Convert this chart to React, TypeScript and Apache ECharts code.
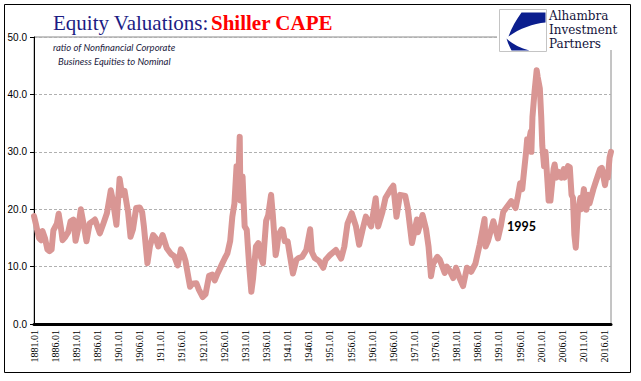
import React, { useEffect, useRef } from "react";
import * as echarts from "echarts";

// Monthly category axis: 1881.01 ... 2017.07
const START_YEAR = 1881;
const END_YEAR = 2017;
const END_MONTH = 7;

// CAPE readings (date label, value)
const dates = [
  "1881.01", "1881.06", "1882.03", "1882.09", "1883.01", "1883.08", "1884.03", "1884.09", "1885.03", "1885.08",
  "1886.06", "1886.11", "1887.06", "1887.10", "1888.06", "1889.02", "1889.09", "1890.05", "1890.11", "1891.06",
  "1892.02", "1892.08", "1893.06", "1894.03", "1894.10", "1895.06", "1896.08", "1897.06", "1898.04", "1899.03",
  "1899.09", "1900.07", "1901.04", "1901.11", "1902.06", "1903.04", "1903.11", "1904.06", "1905.03", "1906.01",
  "1906.08", "1907.01", "1907.11", "1908.06", "1909.03", "1909.10", "1910.06", "1911.06", "1912.06", "1913.06",
  "1914.03", "1915.01", "1915.10", "1916.06", "1916.11", "1917.12", "1918.06", "1919.06", "1920.01", "1920.12",
  "1921.08", "1922.06", "1923.03", "1923.10", "1924.06", "1925.08", "1926.03", "1926.10", "1927.06", "1927.12",
  "1928.06", "1928.12", "1929.05", "1929.09", "1929.11", "1930.05", "1930.11", "1931.05", "1931.12", "1932.06",
  "1932.11", "1933.07", "1934.02", "1934.07", "1935.03", "1935.12", "1936.06", "1937.02", "1937.07", "1938.03",
  "1938.06", "1938.11", "1939.08", "1939.11", "1940.05", "1941.01", "1941.06", "1942.04", "1943.02", "1943.08",
  "1944.06", "1945.06", "1946.05", "1946.10", "1947.06", "1948.06", "1949.06", "1950.01", "1951.01", "1952.06",
  "1953.09", "1954.06", "1955.03", "1956.03", "1957.03", "1957.12", "1958.12", "1959.07", "1960.10", "1961.11",
  "1962.06", "1963.06", "1964.03", "1965.06", "1966.01", "1966.10", "1967.08", "1968.11", "1969.06", "1970.06",
  "1971.08", "1971.11", "1972.12", "1973.10", "1974.05", "1974.12", "1975.06", "1976.06", "1977.01", "1977.10",
  "1978.03", "1978.09", "1979.06", "1980.03", "1980.11", "1981.09", "1982.07", "1983.06", "1984.06", "1985.06",
  "1986.06", "1987.08", "1987.11", "1988.06", "1989.09", "1990.10", "1991.06", "1992.01", "1993.01", "1993.12",
  "1994.12", "1995.06", "1996.01", "1996.07", "1996.12", "1997.06", "1997.09", "1998.01", "1998.07", "1998.09",
  "1998.12", "1999.06", "1999.12", "2000.03", "2000.09", "2001.01", "2001.04", "2001.09", "2002.01", "2002.07",
  "2002.10", "2003.03", "2003.12", "2004.03", "2004.08", "2005.03", "2005.10", "2006.05", "2006.07", "2007.05",
  "2007.10", "2008.03", "2008.07", "2008.11", "2009.03", "2009.09", "2010.04", "2010.07", "2011.02", "2011.09",
  "2012.03", "2012.06", "2013.05", "2014.01", "2014.12", "2015.05", "2016.02", "2016.08", "2016.10", "2017.03",
  "2017.07",
];
const values = [
  18.8, 17.5, 15.0, 14.6, 16.2, 15.0, 13.0, 12.7, 13.0, 16.3,
  17.5, 19.2, 16.5, 14.6, 15.2, 16.0, 17.9, 18.2, 14.5, 16.5,
  20.0, 18.0, 14.4, 17.5, 17.8, 18.2, 15.8, 17.5, 19.3, 23.3,
  21.5, 17.3, 25.3, 22.5, 23.2, 19.5, 15.2, 16.5, 20.2, 20.3,
  19.5, 17.0, 10.6, 13.5, 15.5, 15.0, 13.5, 15.5, 13.2, 12.2,
  11.8, 10.2, 13.0, 12.0, 11.0, 6.5, 7.0, 7.1, 6.0, 4.7,
  5.2, 8.4, 8.6, 7.6, 8.8, 10.6, 11.5, 12.3, 14.5, 18.7,
  21.0, 27.5, 25.2, 32.6, 21.5, 25.7, 17.0, 16.4, 10.0, 5.6,
  8.0, 13.5, 14.1, 12.0, 10.6, 18.0, 19.0, 22.5, 19.0, 12.0,
  13.0, 15.5, 16.5, 16.4, 14.4, 14.4, 12.5, 8.8, 11.2, 11.5,
  11.7, 12.9, 16.5, 12.5, 11.5, 11.0, 9.8, 11.2, 12.0, 12.9,
  11.4, 13.5, 17.5, 19.3, 17.0, 13.8, 17.0, 18.7, 17.0, 21.9,
  17.0, 19.5, 22.0, 23.5, 24.1, 18.7, 22.5, 22.3, 20.2, 14.1,
  18.2, 16.0, 19.0, 16.5, 13.5, 8.3, 10.5, 11.7, 11.2, 9.7,
  8.9, 10.0, 9.2, 8.0, 9.8, 8.0, 6.6, 9.8, 9.1, 10.5,
  13.8, 18.3, 13.5, 14.5, 17.9, 14.9, 17.0, 19.5, 20.5, 21.4,
  20.2, 22.0, 24.5, 23.5, 26.5, 30.0, 32.2, 31.5, 33.5, 30.0,
  36.0, 40.5, 44.2, 43.0, 41.0, 36.0, 31.0, 27.5, 30.0, 24.5,
  21.5, 21.5, 27.0, 27.8, 25.5, 26.5, 25.5, 27.0, 25.5, 27.5,
  27.3, 22.5, 22.0, 15.5, 13.3, 19.5, 22.0, 20.0, 23.5, 19.9,
  22.5, 21.0, 23.5, 25.0, 27.0, 27.2, 24.2, 26.5, 25.5, 29.0,
  30.0,
];

const yTicks = [0, 10, 20, 30, 40, 50];

const titleLeft = "Equity Valuations:";
const titleRight = "Shiller CAPE";
const subtitle1 = "ratio of Nonfinancial Corporate";
const subtitle2 = "Business Equities to Nominal";
const annotation = "1995";
const logoLines = ["Alhambra", "Investment", "Partners"];

const LOGO_D =
  "M22,3 L46,3 L46,13 C34,14 20,19 9,27 C12,18 17,10 22,3 Z M7,29 C12,34 20,38 30,41 L12,41 C10,37 8,33 7,29 Z";

export default function App() {
  const ref = useRef<HTMLDivElement>(null);

  useEffect(() => {
    document.body.style.margin = "0";
    if (!ref.current) return;
    try {
      echarts.graphic.registerShape("logo", echarts.graphic.extendPath(LOGO_D, {}));
    } catch (e) {}
    const chart = echarts.init(ref.current, null, { renderer: "svg" });

    const categories: string[] = [];
    for (let y = START_YEAR; y <= END_YEAR; y++) {
      for (let m = 1; m <= 12; m++) {
        if (y === END_YEAR && m > END_MONTH) break;
        categories.push(`${y}.${m < 10 ? "0" + m : m}`);
      }
    }
    const seriesData = dates.map((d, i) => [categories.indexOf(d), values[i]]);

    chart.setOption({
      animation: false,
      backgroundColor: "#ffffff",
      grid: {
        left: 34,
        right: 30,
        top: 37,
        bottom: 57,
        show: true,
        borderColor: "#8a8a8a",
        borderWidth: 1,
        backgroundColor: "transparent",
      },
      xAxis: {
        type: "category",
        data: categories,
        boundaryGap: false,
        axisLine: { show: true, lineStyle: { color: "#000", width: 3 } },
        axisTick: { show: false },
        axisLabel: {
          interval: 59,
          rotate: 90,
          margin: 6,
          fontFamily: "Liberation Serif",
          fontSize: 10,
          color: "#000",
        },
        splitLine: { show: false },
      },
      yAxis: {
        type: "value",
        min: yTicks[0],
        max: yTicks[yTicks.length - 1],
        interval: 10,
        axisLine: { show: true, lineStyle: { color: "#000", width: 1 } },
        axisTick: { show: true, length: 4, lineStyle: { color: "#000" } },
        axisLabel: {
          formatter: (v: number) => v.toFixed(1),
          fontFamily: "Liberation Sans",
          fontSize: 10,
          color: "#000",
          margin: 7,
        },
        splitLine: { show: true, lineStyle: { color: "#b0b0b0", type: [3, 2], width: 1 } },
      },
      series: [
        {
          type: "line",
          data: seriesData,
          showSymbol: false,
          symbol: "none",
          lineStyle: { color: "#D99694", width: 6, cap: "round", join: "round" },
          z: 3,
        },
      ],
      graphic: [
        {
          type: "rect",
          shape: { x: 4.5, y: 4.5, width: 626, height: 368 },
          style: { fill: "none", stroke: "#000", lineWidth: 1 },
          silent: true,
          z: 1,
        },
        {
          type: "rect",
          shape: { x: 497, y: 6, width: 125, height: 44 },
          style: { fill: "#fff" },
          z: 10,
        },
        {
          type: "rect",
          shape: { x: 499.5, y: 9.5, width: 47, height: 42 },
          style: { fill: "#fff", stroke: "#c4c4c4", lineWidth: 1 },
          z: 11,
        },
        {
          type: "logo",
          x: 499.5,
          y: 9.5,
          scaleX: 1,
          scaleY: 1,
          style: { fill: "#0b1e8e" },
          z: 12,
        },
        ...logoLines.map((t, i) => ({
          type: "text",
          x: 549,
          y: 15.5 + i * 14,
          style: {
            text: t,
            fontFamily: "DejaVu Serif",
            fontSize: 12,
            fill: "#14143c",
            verticalAlign: "middle",
            align: "left",
          },
          z: 12,
        })),
        {
          type: "text",
          x: 53,
          y: 23,
          style: {
            text: titleLeft,
            fontFamily: "Liberation Serif",
            fontSize: 21,
            fill: "#1c1c84",
            verticalAlign: "middle",
            align: "left",
          },
          z: 12,
        },
        {
          type: "text",
          x: 211,
          y: 23,
          style: {
            text: titleRight,
            fontFamily: "Liberation Serif",
            fontWeight: "bold",
            fontSize: 21,
            fill: "#ff0000",
            verticalAlign: "middle",
            align: "left",
          },
          z: 12,
        },
        {
          type: "text",
          x: 53,
          y: 47,
          style: {
            text: subtitle1,
            fontFamily: "Lato",
            fontStyle: "italic",
            fontSize: 9.5,
            fill: "#1b1b40",
            verticalAlign: "middle",
            align: "left",
          },
          z: 12,
        },
        {
          type: "text",
          x: 58,
          y: 61,
          style: {
            text: subtitle2,
            fontFamily: "Lato",
            fontStyle: "italic",
            fontSize: 9.5,
            fill: "#1b1b40",
            verticalAlign: "middle",
            align: "left",
          },
          z: 12,
        },
        {
          type: "text",
          x: 507,
          y: 226,
          style: {
            text: annotation,
            fontFamily: "Lato",
            fontWeight: "bold",
            fontSize: 12.5,
            fill: "#000",
            verticalAlign: "middle",
            align: "left",
          },
          z: 12,
        },
      ],
    });

    return () => {
      chart.dispose();
    };
  }, []);

  return <div ref={ref} style={{ width: 641, height: 381 }} />;
}
